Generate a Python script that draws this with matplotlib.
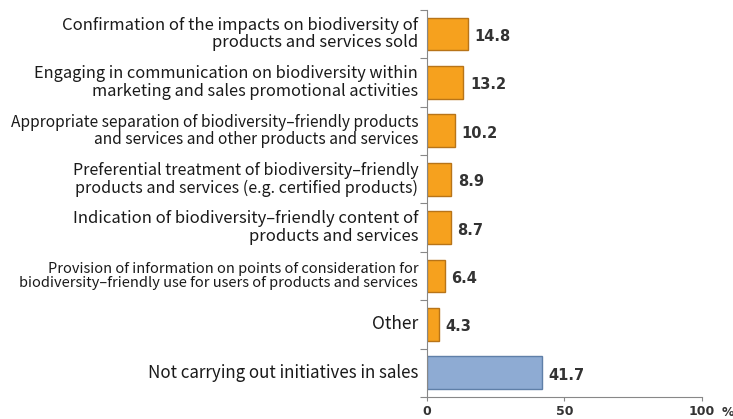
import matplotlib
matplotlib.use("Agg")
import matplotlib.pyplot as plt
import matplotlib.transforms as mtransforms
import numpy as np

categories = [
    "Confirmation of the impacts on biodiversity of\nproducts and services sold",
    "Engaging in communication on biodiversity within\nmarketing and sales promotional activities",
    "Appropriate separation of biodiversity\u2013friendly products\nand services and other products and services",
    "Preferential treatment of biodiversity\u2013friendly\nproducts and services (e.g. certified products)",
    "Indication of biodiversity\u2013friendly content of\nproducts and services",
    "Provision of information on points of consideration for\nbiodiversity\u2013friendly use for users of products and services",
    "Other",
    "Not carrying out initiatives in sales",
]
values = [14.8, 13.2, 10.2, 8.9, 8.7, 6.4, 4.3, 41.7]
label_sizes = [12, 11.8, 11.2, 11.6, 12, 10.5, 12.5, 12.2]
xticks = [0, 50, 100]

fig = plt.figure(figsize=(7.33, 4.19), dpi=100)
ax = fig.add_axes([0.5825, 0.0525, 0.3752, 0.924])

n = len(values)
ypos = np.arange(n)
colors = ["#F6A11E"] * (n - 1) + ["#8EABD3"]
edges = ["#B87418"] * (n - 1) + ["#5F7FA8"]
ax.barh(ypos, values, height=0.68, color=colors, edgecolor=edges, linewidth=1.0)

for y, v in zip(ypos, values):
    ax.text(v + 2.4, y + 0.05, f"{v:.1f}", va="center", ha="left",
            fontsize=10.5, fontweight="bold", color="#333333", family="DejaVu Sans")

ax.set_ylim(n - 0.5, -0.5)
ax.set_xlim(0, 100)
ax.set_yticks(np.arange(n + 1) - 0.5)
ax.set_yticklabels([])
ax.tick_params(axis="y", length=5, direction="out", color="#888888")
for y, (c, s) in enumerate(zip(categories, label_sizes)):
    ax.text(-3.2, y, c, ha="right", va="center", fontsize=s, color="#1a1a1a",
            family=["Noto Sans CJK JP", "DejaVu Sans"], linespacing=1.05,
            transform=ax.transData, clip_on=False)

ax.set_xticks(xticks)
ax.set_xticklabels([str(t) for t in xticks], fontsize=9, fontweight="bold", color="#333333")
ax.tick_params(axis="x", length=3, direction="out", color="#888888", pad=3)
trans = mtransforms.blended_transform_factory(ax.transData, ax.transAxes)
ax.text(109.5, -0.024, "%", transform=trans, ha="center", va="top",
        fontsize=9, fontweight="bold", color="#333333", clip_on=False)

for s in ["top", "right"]:
    ax.spines[s].set_visible(False)
ax.spines["left"].set_color("#888888")
ax.spines["bottom"].set_color("#888888")

fig.savefig("out.png", dpi=100)
